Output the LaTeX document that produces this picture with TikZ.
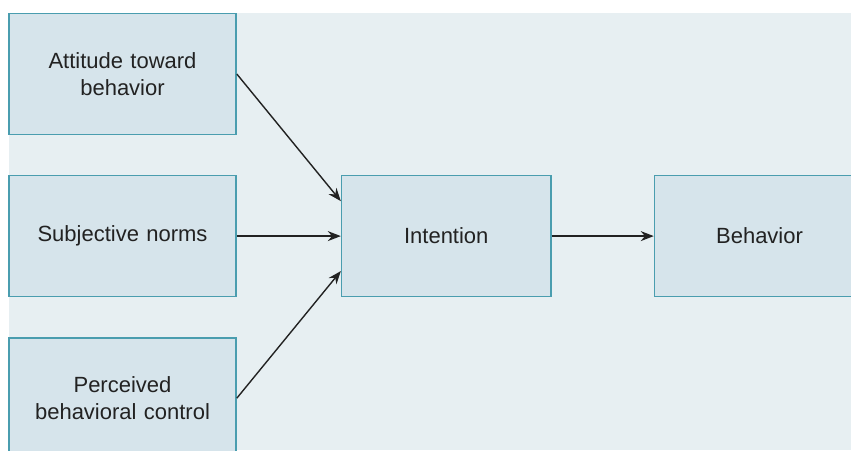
\documentclass[tikz,border=0pt]{standalone}
\usepackage{xcolor}
\usepackage{fontspec}
\setmainfont{Liberation Sans}
\usetikzlibrary{arrows.meta, positioning}
\definecolor{bgblue}{HTML}{E7EFF2}
\definecolor{boxfill}{HTML}{D6E4EB}
\definecolor{boxline}{HTML}{4A9DAF}
\definecolor{ink}{HTML}{222222}
\tikzstyle{rect} = [rectangle, draw=boxline, line width=0.8pt, fill=boxfill, text=ink, text width=105pt, align=center, minimum width=113.5pt, minimum height=60.5pt, font=\fontsize{11}{13.5}\selectfont]
\tikzstyle{line} = [draw=ink, -{Stealth[length=6.5pt,width=5pt]}, line width=0.7pt]

\begin{document}
\begin{tikzpicture}[x=0.5pt, y=-0.5pt, node distance=19.75pt and 52pt]
  \clip (0,0) rectangle (851,450);
  \fill [bgblue] (9,13) rectangle (851,450);
  \node (a) [rect] at (122.5,74) {Attitude toward\\behavior};
  \node (s) [rect, below=of a] {Subjective norms};
  \node (p) [rect, below=of s] {Perceived\\behavioral control};
  \node (i) [rect, right=of s, minimum width=104.5pt, text width=98pt] {Intention};
  \node (b) [rect, right=51pt of i, minimum width=105pt, text width=98pt] {Behavior};
  \draw [line] (a.east) -- ([yshift=17.5pt]i.west);
  \draw [line] (s) -- (i);
  \draw [line] (p.east) -- ([yshift=-17.5pt]i.west);
  \draw [line] (i) -- (b);
\end{tikzpicture}
\end{document}
